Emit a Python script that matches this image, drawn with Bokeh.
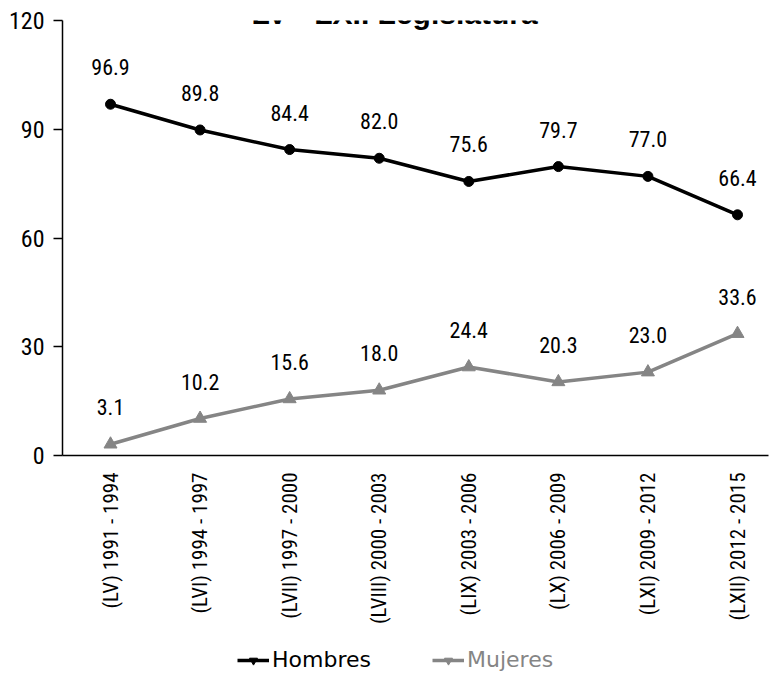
import math
from bokeh.plotting import figure
from bokeh.layouts import column
from bokeh.models import (ColumnDataSource, LabelSet, Legend, LegendItem,
                          FixedTicker, Label, Range1d)
from bokeh.core.properties import value
from bokeh.embed import file_html
from bokeh.resources import INLINE

# ---------------- data ----------------
categories = ["(LV) 1991 - 1994", "(LVI) 1994 - 1997", "(LVII) 1997 - 2000",
              "(LVIII) 2000 - 2003", "(LIX) 2003 - 2006", "(LX) 2006 - 2009",
              "(LXI) 2009 - 2012", "(LXII) 2012 - 2015"]
hombres = [96.9, 89.8, 84.4, 82.0, 75.6, 79.7, 77.0, 66.4]
mujeres = [3.1, 10.2, 15.6, 18.0, 24.4, 20.3, 23.0, 33.6]
y_ticks = [0, 30, 60, 90, 120]
title_text = "LV - LXII Legislatura"
series_names = ["Hombres", "Mujeres"]

COND = "Roboto Condensed"
BLACK = "#000000"
GRAY = "#858585"

idx = list(range(len(categories)))
src_h = ColumnDataSource(dict(x=idx, y=hombres, lab=["%.1f" % v for v in hombres]))
src_m = ColumnDataSource(dict(x=idx, y=mujeres, lab=["%.1f" % v for v in mujeres]))

p = figure(width=770, height=645, output_backend="svg", toolbar_location=None,
           x_range=Range1d(-0.536, 7.346), y_range=Range1d(0, 120),
           min_border_left=62, min_border_right=2, min_border_top=20,
           min_border_bottom=190)
p.outline_line_color = None
p.xgrid.visible = False
p.ygrid.visible = False
p.background_fill_color = "white"
p.border_fill_color = "white"

# y axis
p.yaxis.ticker = FixedTicker(ticks=y_ticks)
p.yaxis.minor_tick_line_color = None
p.yaxis.major_tick_in = 0
p.yaxis.major_tick_out = 9
p.yaxis.axis_line_width = 1.5
p.yaxis.major_tick_line_width = 1.5
p.yaxis.major_label_text_font = COND
p.yaxis.major_label_text_font_size = "24px"
p.yaxis.major_label_text_color = BLACK
p.yaxis.major_label_standoff = 9

# x axis
p.xaxis.ticker = FixedTicker(ticks=idx)
p.xaxis.major_label_overrides = {i: c for i, c in zip(idx, categories)}
p.xaxis.minor_tick_line_color = None
p.xaxis.major_tick_line_color = None
p.xaxis.axis_line_width = 1.5
p.xaxis.major_label_orientation = math.pi / 2
p.xaxis.major_label_text_font = COND
p.xaxis.major_label_text_font_size = "21px"
p.xaxis.major_label_text_color = BLACK
p.xaxis.major_label_standoff = 11

# series
p.line("x", "y", source=src_h, line_color=BLACK, line_width=3.5)
p.scatter("x", "y", source=src_h, marker="circle", size=10, fill_color=BLACK,
          line_color=BLACK)
p.line("x", "y", source=src_m, line_color=GRAY, line_width=3.5)
p.scatter("x", "y", source=src_m, marker="triangle", size=13, fill_color=GRAY,
          line_color=GRAY)

# data labels
for src in (src_h, src_m):
    p.add_layout(LabelSet(x="x", y="y", text="lab", source=src, y_offset=29,
                          text_align="center", text_baseline="alphabetic",
                          text_font=value(COND), text_font_size="22px",
                          text_color=BLACK))

# title (partly cut off at the top, as in the reference)
p.add_layout(Label(x=3.171, y=122.0, text=title_text, text_align="center",
                   text_baseline="alphabetic", text_font="Liberation Sans",
                   text_font_style="bold", text_font_size="30px",
                   text_color=BLACK))

# legend strip below the chart (its frame is aligned with the chart frame)
lf = figure(width=770, height=32, output_backend="svg", toolbar_location=None,
            x_range=Range1d(0, 770), y_range=Range1d(0, 32),
            min_border=0)
lf.axis.visible = False
lf.grid.visible = False
lf.outline_line_color = None
off = dict(x=[-1000, -999], y=[-1000, -1000])
lh = lf.line(x=off["x"], y=off["y"], line_color=BLACK, line_width=3.5)
mh = lf.scatter(x=off["x"], y=off["y"], marker="inverted_triangle", size=8,
                fill_color=BLACK, line_color=BLACK)
lm = lf.line(x=off["x"], y=off["y"], line_color=GRAY, line_width=3.5)
mm = lf.scatter(x=off["x"], y=off["y"], marker="inverted_triangle", size=8,
                fill_color=GRAY, line_color=GRAY)

for name, rends, color, loc in ((series_names[0], [lh, mh], BLACK, (175, 5)),
                                (series_names[1], [lm, mm], GRAY, (370, 5))):
    leg = Legend(items=[LegendItem(label=name, renderers=rends)],
                 location=loc, orientation="horizontal",
                 label_text_font="DejaVu Sans", label_text_font_size="22px",
                 label_text_color=color, glyph_width=32, glyph_height=20,
                 label_standoff=3, padding=0, margin=0,
                 border_line_color=None, background_fill_alpha=0)
    lf.add_layout(leg, "center")

open("out.html", "w").write(file_html(column(p, lf, spacing=0), INLINE))
